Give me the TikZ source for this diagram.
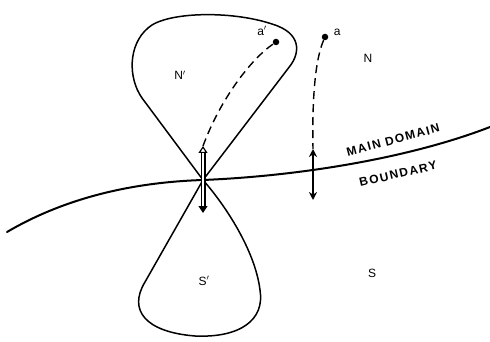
\documentclass[tikz,border=0pt]{standalone}
\usepackage{fontspec}
\setmainfont{Liberation Sans}
\newfontfamily\capfont[LetterSpace=12]{Liberation Sans}
\usetikzlibrary{arrows.meta, positioning}

\begin{document}
\begin{tikzpicture}[x=1pt, y=-1pt,
    lobe/.style={draw, line width=1.5pt, line join=round},
    bnd/.style={line width=2pt, line cap=round},
    trail/.style={line width=1.4pt, dash pattern=on 8pt off 5pt},
    dot/.style={circle, fill, inner sep=0pt, minimum size=6.5pt},
    lbl/.style={font=\fontsize{12}{12}\selectfont},
    capslbl/.style={font=\capfont\fontsize{12}{12}\selectfont\bfseries, inner sep=1pt},
    swing/.style={line width=1.5pt, {Stealth[length=8pt,width=8pt]}-{Stealth[length=8pt,width=8pt]}},
    hswing/.style={double, double distance=2.6pt, line width=1.2pt,
                   {Triangle[open,length=7pt,width=9pt]}-{Triangle[length=7pt,width=9pt]}},
]
\useasboundingbox (0,0) rectangle (490,342);
\coordinate (x0) at (203,180);

\draw[lobe] (x0) -- (142,98) .. controls (128,78) and (128,45) .. (148,28)
    .. controls (165,12) and (230,10) .. (272,24)
    .. controls (302,33) and (300,53) .. (290,66) -- cycle;
\draw[lobe] (x0) -- (145,282) .. controls (128,310) and (145,332) .. (195,336)
    .. controls (240,338) and (265,320) .. (260,290)
    .. controls (255,250) and (225,205) .. (x0);

\draw[bnd] (7,232) .. controls (70,195) and (140,182) .. (x0)
    .. controls (300,176) and (410,158) .. (490,127);

\coordinate (nsw) at (203,146);
\coordinate (ssw) at (203,213);
\draw[hswing] (nsw) -- (ssw);

\node[dot] (adash) at (276,42) {};
\node[lbl] (adashlbl) at (262,31) {a$'$};
\node[dot] (a) at (325,37) {};
\node[lbl, right=2pt of a, yshift=5pt] (albl) {a};

\coordinate (top) at (313,149);
\coordinate (bot) at (313,200);
\draw[trail] (nsw) .. controls (220,100) and (250,60) .. (adash);
\draw[trail] (a) .. controls (315,60) and (312,100) .. (top);
\draw[swing] (top) -- (bot);

\node[lbl] (nd) at (180,75) {N$'$};
\node[lbl] (n) at (368,58) {N};
\node[lbl] (sd) at (204,281) {S$'$};
\node[lbl] (s) at (372,273) {S};
\node[capslbl, rotate=15] (main) at (393,140) {MAIN DOMAIN};
\node[capslbl, rotate=13] (bdy) at (398,174) {BOUNDARY};
\end{tikzpicture}
\end{document}
